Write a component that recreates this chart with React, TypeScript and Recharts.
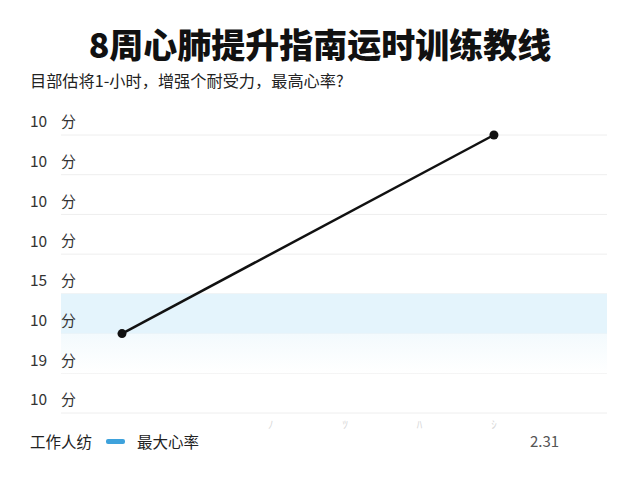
import React from 'react';
import { ComposedChart, Line, XAxis, YAxis, CartesianGrid, ReferenceArea } from 'recharts';

const title = '8周心肺提升指南运时训练教线';
const subtitle = '目部估将1-小时，增强个耐受力，最高心率?';
const weeks = [1, 6];
const levels = [2, 7];
const yTickValues = [0, 1, 2, 3, 4, 5, 6, 7];
const yTickLabels = ['10', '19', '10', '15', '10', '10', '10', '10'];
const yUnit = '分';
const xTickValues = [3, 4, 5, 6];
const xTickLabels = ['ﾉ', 'ﾂ', 'ﾊ', 'ｼ'];
const bandRange = [2, 3];
const fadeRange = [1, 2];
const legendLeft = '工作人纺';
const legendSeries = '最大心率';
const cornerNote = '2.31';

const data = weeks.map((w, i) => ({ week: w, level: levels[i] }));

const FONT = '"Noto Sans CJK SC", "Noto Sans", sans-serif';

const YTick = (props: any) => {
  const { y, payload } = props;
  const idx = yTickValues.indexOf(payload.value);
  return (
    <g>
      <text x={30} y={y - 13} dy="0.35em" fontSize={15.5} fill="#333" fontFamily={FONT}>
        {yTickLabels[idx]}
      </text>
      <text x={61} y={y - 13} dy="0.35em" fontSize={15} fill="#333" fontFamily={FONT}>
        {yUnit}
      </text>
    </g>
  );
};

const XTick = (props: any) => {
  const { x, y, payload } = props;
  const idx = xTickValues.indexOf(payload.value);
  return (
    <text x={x} y={y + 8} textAnchor="middle" fontSize={11} fill="#d8d8d8" fontFamily={FONT}>
      {xTickLabels[idx]}
    </text>
  );
};

export default function App() {
  return (
    <div style={{ position: 'absolute', left: 0, top: 0, width: 640, height: 480, background: '#fff', fontFamily: FONT }}>
      <div style={{ position: 'absolute', left: 0, top: 22, width: 640, textAlign: 'center', fontSize: 34, fontWeight: 900, color: '#111', lineHeight: '44px' }}>
        {title}
      </div>
      <div style={{ position: 'absolute', left: 30, top: 70, fontSize: 16.2, color: '#222', lineHeight: '20px' }}>
        {subtitle}
      </div>
      <ComposedChart width={640} height={480} data={data} margin={{ top: 135, right: 33, bottom: 37, left: 0 }}>
        <defs>
          <linearGradient id="fadeBlue" x1="0" y1="0" x2="0" y2="1">
            <stop offset="0%" stopColor="#f3fafd" />
            <stop offset="100%" stopColor="#ffffff" />
          </linearGradient>
        </defs>
        <CartesianGrid vertical={false} stroke="#eeeeee" />
        <ReferenceArea y1={fadeRange[0]} y2={fadeRange[1]} fill="url(#fadeBlue)" fillOpacity={1} stroke="none" />
        <ReferenceArea y1={bandRange[0]} y2={bandRange[1]} fill="#e4f4fc" fillOpacity={1} stroke="none" />
        <XAxis
          dataKey="week"
          type="number"
          domain={[0.18, 7.52]}
          ticks={xTickValues}
          axisLine={false}
          tickLine={false}
          height={30}
          tick={<XTick />}
          allowDataOverflow
        />
        <YAxis
          type="number"
          domain={[0, 7]}
          ticks={yTickValues}
          axisLine={false}
          tickLine={false}
          width={61}
          tick={<YTick />}
        />
        <Line
          dataKey="level"
          stroke="#111"
          strokeWidth={2.5}
          dot={{ r: 4.5, fill: '#111', stroke: '#111', strokeWidth: 0 }}
          isAnimationActive={false}
        />
      </ComposedChart>
      <div style={{ position: 'absolute', left: 30, top: 430, display: 'flex', alignItems: 'center', fontSize: 15.5, color: '#222', lineHeight: '22px' }}>
        <span>{legendLeft}</span>
        <span style={{ display: 'inline-block', width: 19, height: 5, borderRadius: 2, background: '#3ea2dc', marginLeft: 14, marginRight: 12 }} />
        <span>{legendSeries}</span>
      </div>
      <div style={{ position: 'absolute', left: 530, top: 430, fontSize: 15, color: '#555', lineHeight: '22px' }}>
        {cornerNote}
      </div>
    </div>
  );
}
